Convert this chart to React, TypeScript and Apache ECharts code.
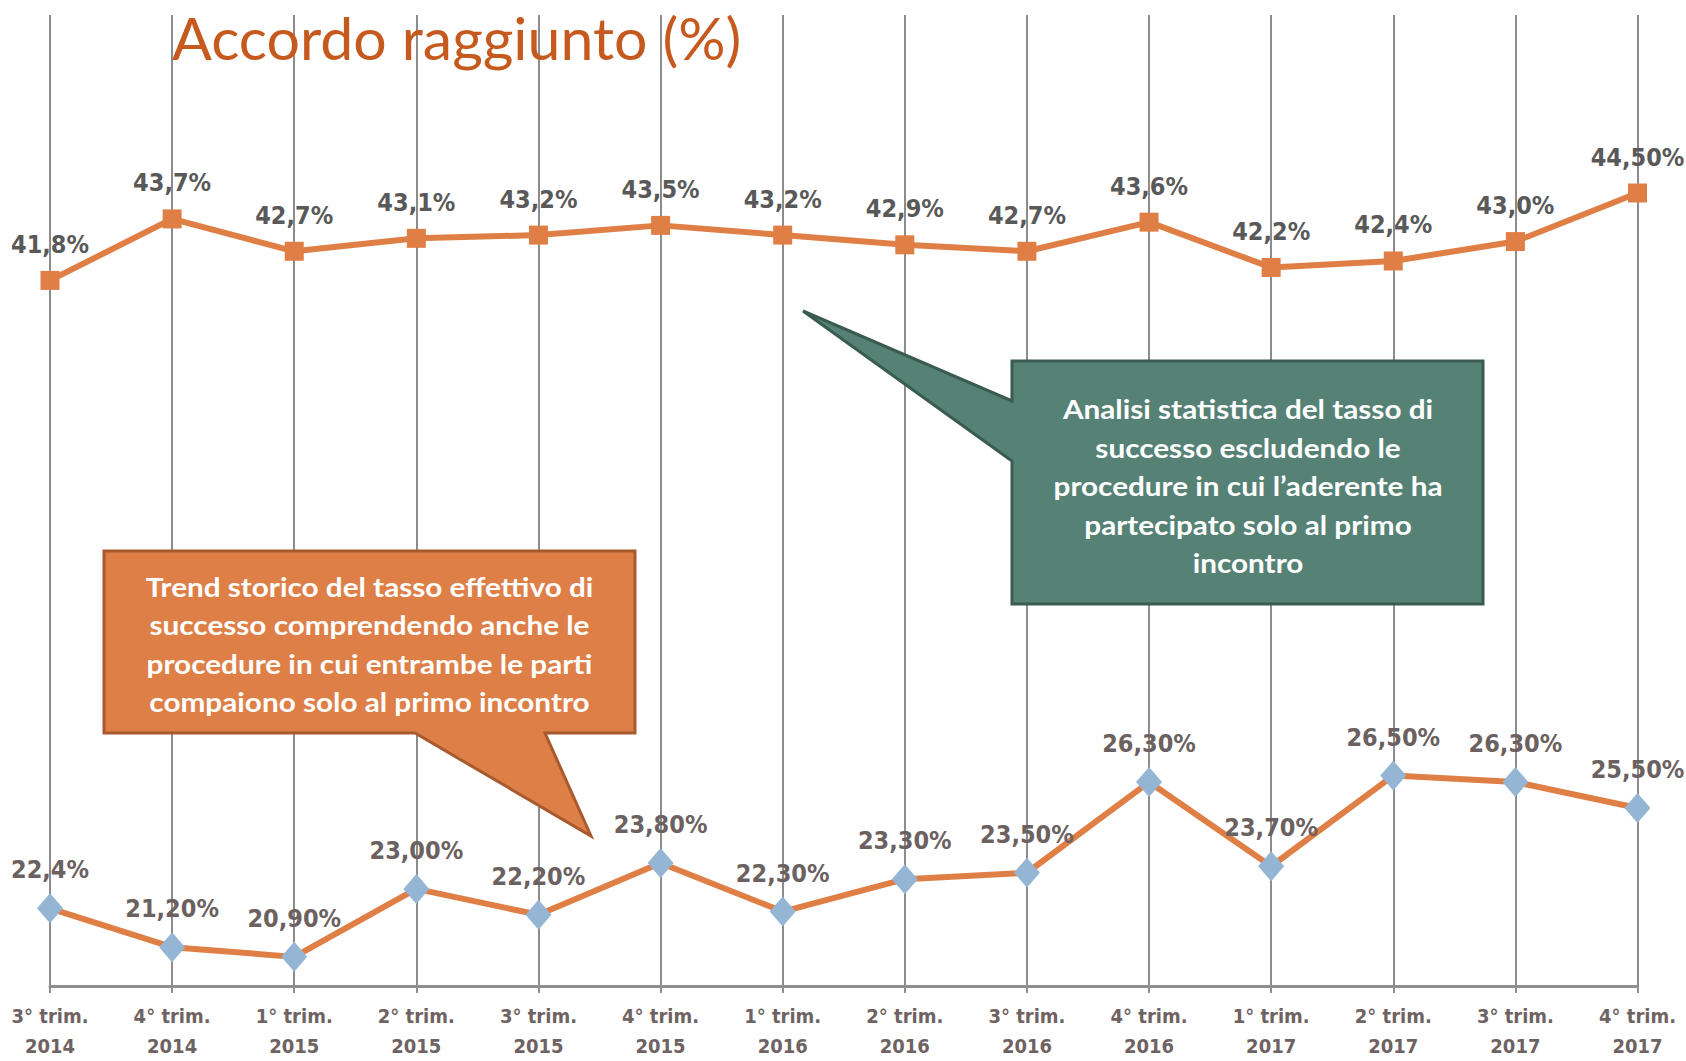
import React, { useEffect, useRef } from "react";
import * as echarts from "echarts";

const categories = [
  "3° trim.\n2014", "4° trim.\n2014", "1° trim.\n2015", "2° trim.\n2015",
  "3° trim.\n2015", "4° trim.\n2015", "1° trim.\n2016", "2° trim.\n2016",
  "3° trim.\n2016", "4° trim.\n2016", "1° trim.\n2017", "2° trim.\n2017",
  "3° trim.\n2017", "4° trim.\n2017",
];

const upperValues = [41.8, 43.7, 42.7, 43.1, 43.2, 43.5, 43.2, 42.9, 42.7, 43.6, 42.2, 42.4, 43.0, 44.5];
const upperLabels = ["41,8%", "43,7%", "42,7%", "43,1%", "43,2%", "43,5%", "43,2%", "42,9%", "42,7%", "43,6%", "42,2%", "42,4%", "43,0%", "44,50%"];

const lowerValues = [22.4, 21.2, 20.9, 23.0, 22.2, 23.8, 22.3, 23.3, 23.5, 26.3, 23.7, 26.5, 26.3, 25.5];
const lowerLabels = ["22,4%", "21,20%", "20,90%", "23,00%", "22,20%", "23,80%", "22,30%", "23,30%", "23,50%", "26,30%", "23,70%", "26,50%", "26,30%", "25,50%"];

const titleText = "Accordo raggiunto (%)";
const greenNote = "Analisi statistica del tasso di\nsuccesso escludendo le\nprocedure in cui l’aderente ha\npartecipato solo al primo\nincontro";
const orangeNote = "Trend storico del tasso effettivo di\nsuccesso comprendendo anche le\nprocedure in cui entrambe le parti\ncompaiono solo al primo incontro";

const NARROW = "'Liberation Sans Narrow', 'DejaVu Sans Condensed', 'Liberation Sans', sans-serif";
const NOTE_FONT = "Lato, 'Noto Sans', sans-serif";

export default function App() {
  const ref = useRef<HTMLDivElement>(null);
  useEffect(() => {
    if (!ref.current) return;
    const chart = echarts.init(ref.current, undefined, { renderer: "svg" });
    chart.setOption({
      animation: false,
      backgroundColor: "#ffffff",
      grid: { left: 50, right: 48.5, top: 15, bottom: 70 },
      xAxis: {
        type: "category",
        data: categories,
        boundaryGap: false,
        axisLine: { lineStyle: { color: "#8f8f8f", width: 3 } },
        axisTick: { show: true, length: 7, lineStyle: { color: "#8f8f8f", width: 2 } },
        splitLine: { show: true, lineStyle: { color: "#8c8c8c", width: 2 } },
        axisLabel: {
          color: "#6e6262",
          fontFamily: NARROW,
          fontWeight: "bold",
          fontSize: 20,
          lineHeight: 30,
          margin: 15,
        },
      },
      yAxis: { type: "value", min: 20, max: 50, show: false },
      series: [
        {
          type: "line",
          data: upperValues,
          symbol: "rect",
          symbolSize: 19,
          lineStyle: { color: "#e07f45", width: 6 },
          itemStyle: { color: "#e07f45" },
          label: {
            show: true,
            position: "top",
            distance: 14,
            formatter: (p: any) => upperLabels[p.dataIndex],
            color: "#595959",
            fontFamily: NARROW,
            fontWeight: "bold",
            fontSize: 25,
          },
          z: 3,
        },
        {
          type: "line",
          data: lowerValues,
          symbol: "diamond",
          symbolSize: [26, 30],
          lineStyle: { color: "#df7f45", width: 6 },
          itemStyle: { color: "#95b5d5" },
          label: {
            show: true,
            position: "top",
            distance: 11,
            formatter: (p: any) => lowerLabels[p.dataIndex],
            color: "#6b6161",
            fontFamily: NARROW,
            fontWeight: "bold",
            fontSize: 25,
          },
          z: 3,
        },
      ],
      graphic: [
        {
          type: "text",
          x: 172,
          y: 37,
          z: 50,
          style: {
            text: titleText,
            fill: "#c65a1e",
            font: `normal 59px Lato, sans-serif`,
            align: "left",
            verticalAlign: "middle",
          },
        },
        {
          type: "polygon",
          z: 100,
          shape: {
            points: [
              [1012, 361], [1483, 361], [1483, 604], [1012, 604],
              [1012, 461], [803, 311], [1012, 401],
            ],
          },
          style: { fill: "#568276", stroke: "#3a5b50", lineWidth: 3 },
        },
        {
          type: "text",
          x: 1248,
          y: 486,
          z: 101,
          scaleX: 1.1,
          style: {
            text: greenNote,
            fill: "#ffffff",
            font: `bold 27px ${NOTE_FONT}`,
            align: "center",
            verticalAlign: "middle",
            lineHeight: 38.5,
          },
        },
        {
          type: "polygon",
          z: 100,
          shape: {
            points: [
              [104, 551], [635, 551], [635, 733], [545, 733],
              [591, 836], [415, 733], [104, 733],
            ],
          },
          style: { fill: "#de7f48", stroke: "#a85a2e", lineWidth: 3 },
        },
        {
          type: "text",
          x: 369.5,
          y: 644,
          z: 101,
          scaleX: 1.1,
          style: {
            text: orangeNote,
            fill: "#ffffff",
            font: `bold 27px ${NOTE_FONT}`,
            align: "center",
            verticalAlign: "middle",
            lineHeight: 38.5,
          },
        },
      ],
    });
    return () => chart.dispose();
  }, []);
  return (
    <div
      ref={ref}
      style={{ position: "fixed", left: 0, top: 0, width: 1686, height: 1061 }}
    />
  );
}
